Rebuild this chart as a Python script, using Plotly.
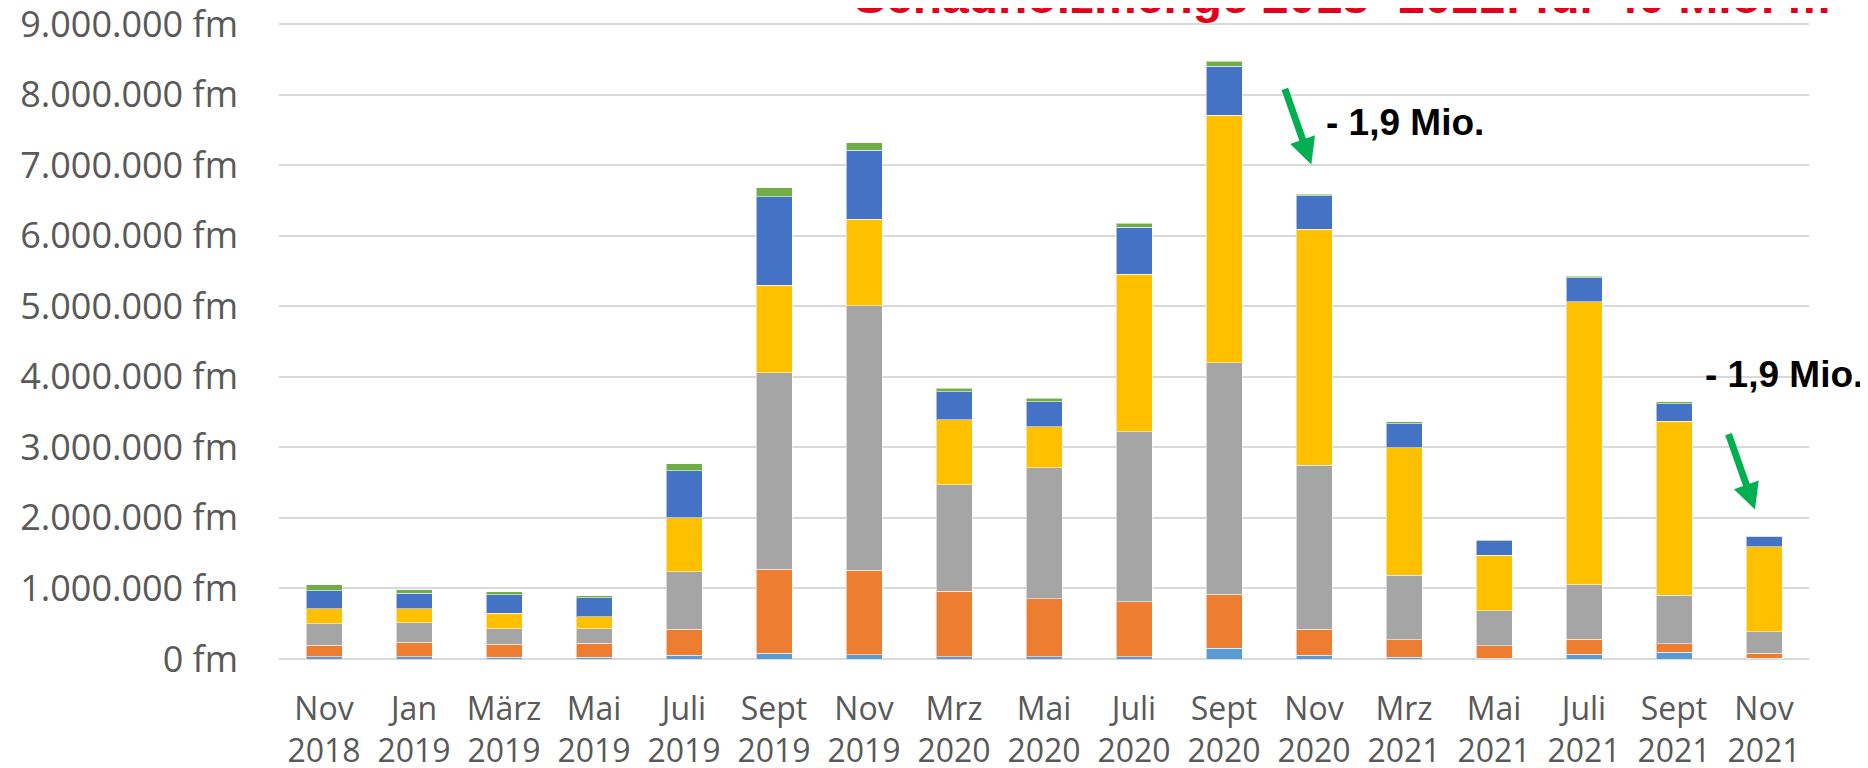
import plotly.graph_objects as go

# ---------------- data ----------------
months = ["Nov", "Jan", "März", "Mai", "Juli", "Sept", "Nov", "Mrz", "Mai",
          "Juli", "Sept", "Nov", "Mrz", "Mai", "Juli", "Sept", "Nov"]
years = ["2018", "2019", "2019", "2019", "2019", "2019", "2019", "2020", "2020",
         "2020", "2020", "2020", "2021", "2021", "2021", "2021", "2021"]

# stacked segments, bottom to top (fm)
serie_1 = [30000, 30000, 24000, 28000, 52000, 85000, 60000, 33000, 30000,
           30000, 151000, 52000, 24000, 10000, 66000, 95000, 14000]
serie_2 = [164000, 209000, 184000, 194000, 368000, 1185000, 1200000, 926000, 825000,
           778000, 770000, 373000, 250000, 179000, 213000, 122000, 71000]
serie_3 = [306000, 278000, 222000, 208000, 818000, 2790000, 3747000, 1511000, 1857000,
           2414000, 3279000, 2320000, 912000, 496000, 774000, 690000, 302000]
serie_4 = [213000, 194000, 217000, 170000, 762000, 1240000, 1229000, 920000, 581000,
           2234000, 3510000, 3349000, 1809000, 789000, 4007000, 2461000, 1205000]
serie_5 = [255000, 222000, 265000, 270000, 669000, 1250000, 974000, 400000, 354000,
           662000, 690000, 472000, 340000, 203000, 340000, 250000, 147000]
serie_6 = [81000, 47000, 38000, 28000, 95000, 130000, 110000, 50000, 47000,
           56000, 75000, 24000, 24000, 10000, 28000, 29000, 9000]

series_names = ["Reihe 1", "Reihe 2", "Reihe 3", "Reihe 4", "Reihe 5", "Reihe 6"]
series_values = [serie_1, serie_2, serie_3, serie_4, serie_5, serie_6]
series_colors = ["#5B9BD5", "#ED7D31", "#A5A5A5", "#FFC000", "#4472C4", "#70AD47"]

y_ticks = [0, 1000000, 2000000, 3000000, 4000000, 5000000, 6000000, 7000000, 8000000, 9000000]
y_tick_labels = [f"{v:,}".replace(",", ".") + " fm" for v in y_ticks]

title_text = "Schadholzmenge 2018- 2021: für 40 Mio. m³"
note_text = "- 1,9 Mio."

# ---------------- figure ----------------
x_idx = list(range(len(months)))
tick_text = [f"{m}<br>{y}" for m, y in zip(months, years)]

fig = go.Figure()
for name, vals, col in zip(series_names, series_values, series_colors):
    fig.add_trace(go.Bar(
        x=x_idx, y=vals, name=name,
        marker=dict(color=col, line=dict(color="rgba(255,255,255,0.55)", width=1)),
        hovertemplate="%{y:,d} fm<extra>" + name + "</extra>",
    ))

totals = [sum(v) for v in zip(*series_values)]
i1 = 11  # Nov 2020
i2 = 16  # Nov 2021

note_font = dict(family="Liberation Sans, Arial, sans-serif", size=37, color="#000000", weight="bold")
arrow_style = dict(showarrow=True, arrowhead=2, arrowwidth=7, arrowsize=0.75,
                   arrowcolor="#00B050", standoff=0, startstandoff=0, text="")

annotations = [
    dict(text=title_text, xref="paper", yref="paper", x=(852 - 279) / 1530, y=1,
         xanchor="left", yanchor="bottom", yshift=-3, showarrow=False,
         font=dict(family="Liberation Sans, Arial, sans-serif", size=48, color="#E3001B", weight="bold")),
    dict(text=note_text, xref="x", yref="y", x=i1 + 1.01, y=totals[i1] + 1010000,
         xanchor="center", yanchor="middle", showarrow=False, font=note_font),
    dict(text=note_text, xref="x", yref="y", x=i2 + 0.22, y=totals[i2] + 2290000,
         xanchor="center", yanchor="middle", showarrow=False, font=note_font),
    dict(xref="x", yref="y", x=i1 - 0.03, y=totals[i1] + 420000, ax=-27, ay=-77, **arrow_style),
    dict(xref="x", yref="y", x=i2 - 0.1, y=totals[i2] + 370000, ax=-27, ay=-77, **arrow_style),
]

# the page body adds an 8 px offset; margins compensate so the plot area
# lands at x 279..1809 of the window, with 0 at y 659 and 9 Mio. at y 24
fig.update_layout(
    width=1868, height=768,
    barmode="stack", bargap=0.6,
    showlegend=False,
    plot_bgcolor="white", paper_bgcolor="white",
    margin=dict(l=271, r=67, t=14, b=117, autoexpand=False),
    annotations=annotations,
    font=dict(family="Open Sans, Noto Sans, sans-serif", color="#595959"),
)
fig.update_xaxes(
    range=[-0.5, 16.5], tickmode="array", tickvals=x_idx, ticktext=tick_text,
    showgrid=False, zeroline=False, showline=False, ticks="",
    tickfont=dict(family="Open Sans, Noto Sans, sans-serif", size=32, color="#595959"),
    ticklabelstandoff=28, ticklabeloverflow="allow",
)
fig.update_yaxes(
    range=[0, 9028000], tickmode="array", tickvals=y_ticks, ticktext=y_tick_labels,
    showgrid=True, gridcolor="#D9D9D9", gridwidth=1.5,
    zeroline=True, zerolinecolor="#D9D9D9", zerolinewidth=1.5,
    showline=False, ticks="",
    tickfont=dict(family="Open Sans, Noto Sans, sans-serif", size=36, color="#595959"),
    ticklabelstandoff=40, ticklabeloverflow="allow",
)

fig.write_html("out.html")
